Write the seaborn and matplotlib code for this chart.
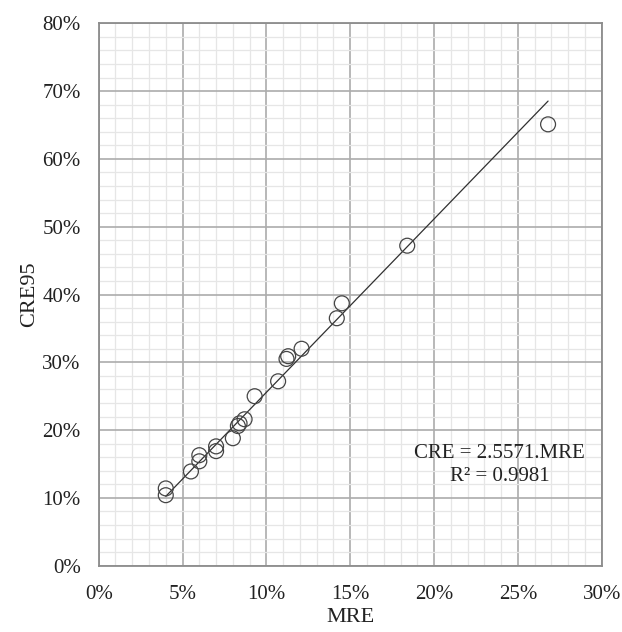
import numpy as np
import pandas as pd
import matplotlib

matplotlib.use("Agg")
import matplotlib.pyplot as plt
import seaborn as sns
from matplotlib.ticker import MultipleLocator, PercentFormatter

# ค่าที่อ่านจากกราฟ (หน่วย %)
mre = [4.0, 4.0, 5.5, 6.0, 6.0, 7.0, 7.0, 8.0, 8.3, 8.4,
       8.7, 9.3, 10.7, 11.2, 11.3, 12.1, 14.2, 14.5, 18.4, 26.8]
cre95 = [11.4, 10.4, 13.9, 16.3, 15.4, 17.6, 16.9, 18.8, 20.6, 21.0,
         21.6, 25.0, 27.2, 30.5, 30.9, 32.0, 36.5, 38.7, 47.2, 65.1]
slope = 2.5571
r2 = 0.9981

df = pd.DataFrame({"MRE": mre, "CRE95": cre95})
x_fit = np.array([min(mre), max(mre)])
fit_df = pd.DataFrame({"MRE": x_fit, "CRE95": slope * x_fit})

sns.set_theme(style="white")
plt.rcParams["font.family"] = ["Liberation Serif", "DejaVu Serif"]

fig = plt.figure(figsize=(6.22, 6.32), dpi=100)
ax = fig.add_axes([0.1587, 0.1049, 0.8087, 0.8582])

ax.set_xlim(0, 30)
ax.set_ylim(0, 80)
ax.xaxis.set_major_locator(MultipleLocator(5))
ax.xaxis.set_minor_locator(MultipleLocator(1))
ax.yaxis.set_major_locator(MultipleLocator(10))
ax.yaxis.set_minor_locator(MultipleLocator(2))
ax.xaxis.set_major_formatter(PercentFormatter(decimals=0))
ax.yaxis.set_major_formatter(PercentFormatter(decimals=0))

ax.grid(which="minor", color="#e6e6e6", linewidth=0.9)
ax.grid(which="major", color="#acacac", linewidth=1.2)
ax.set_axisbelow(True)

sns.lineplot(data=fit_df, x="MRE", y="CRE95", ax=ax, color="#303030", linewidth=0.9)
sns.scatterplot(data=df, x="MRE", y="CRE95", ax=ax, s=115, facecolor="none",
                edgecolor="#454545", linewidth=0.9, zorder=3)

ax.text(23.9, 14.9, f"CRE = {slope}.MRE\nR² = {r2}", ha="center", va="center",
        fontsize=15, color="#222222", linespacing=1.3)

for s in ax.spines.values():
    s.set_color("#8c8c8c")
    s.set_linewidth(1.3)

ax.tick_params(which="both", length=0, labelsize=15, colors="#222222")
ax.tick_params(axis="x", pad=14)
ax.tick_params(axis="y", pad=13)
ax.set_xlabel("MRE", fontsize=16, color="#222222", labelpad=3)
ax.set_ylabel("CRE95", fontsize=16, color="#222222", labelpad=2)

fig.savefig("out.png", dpi=100)
